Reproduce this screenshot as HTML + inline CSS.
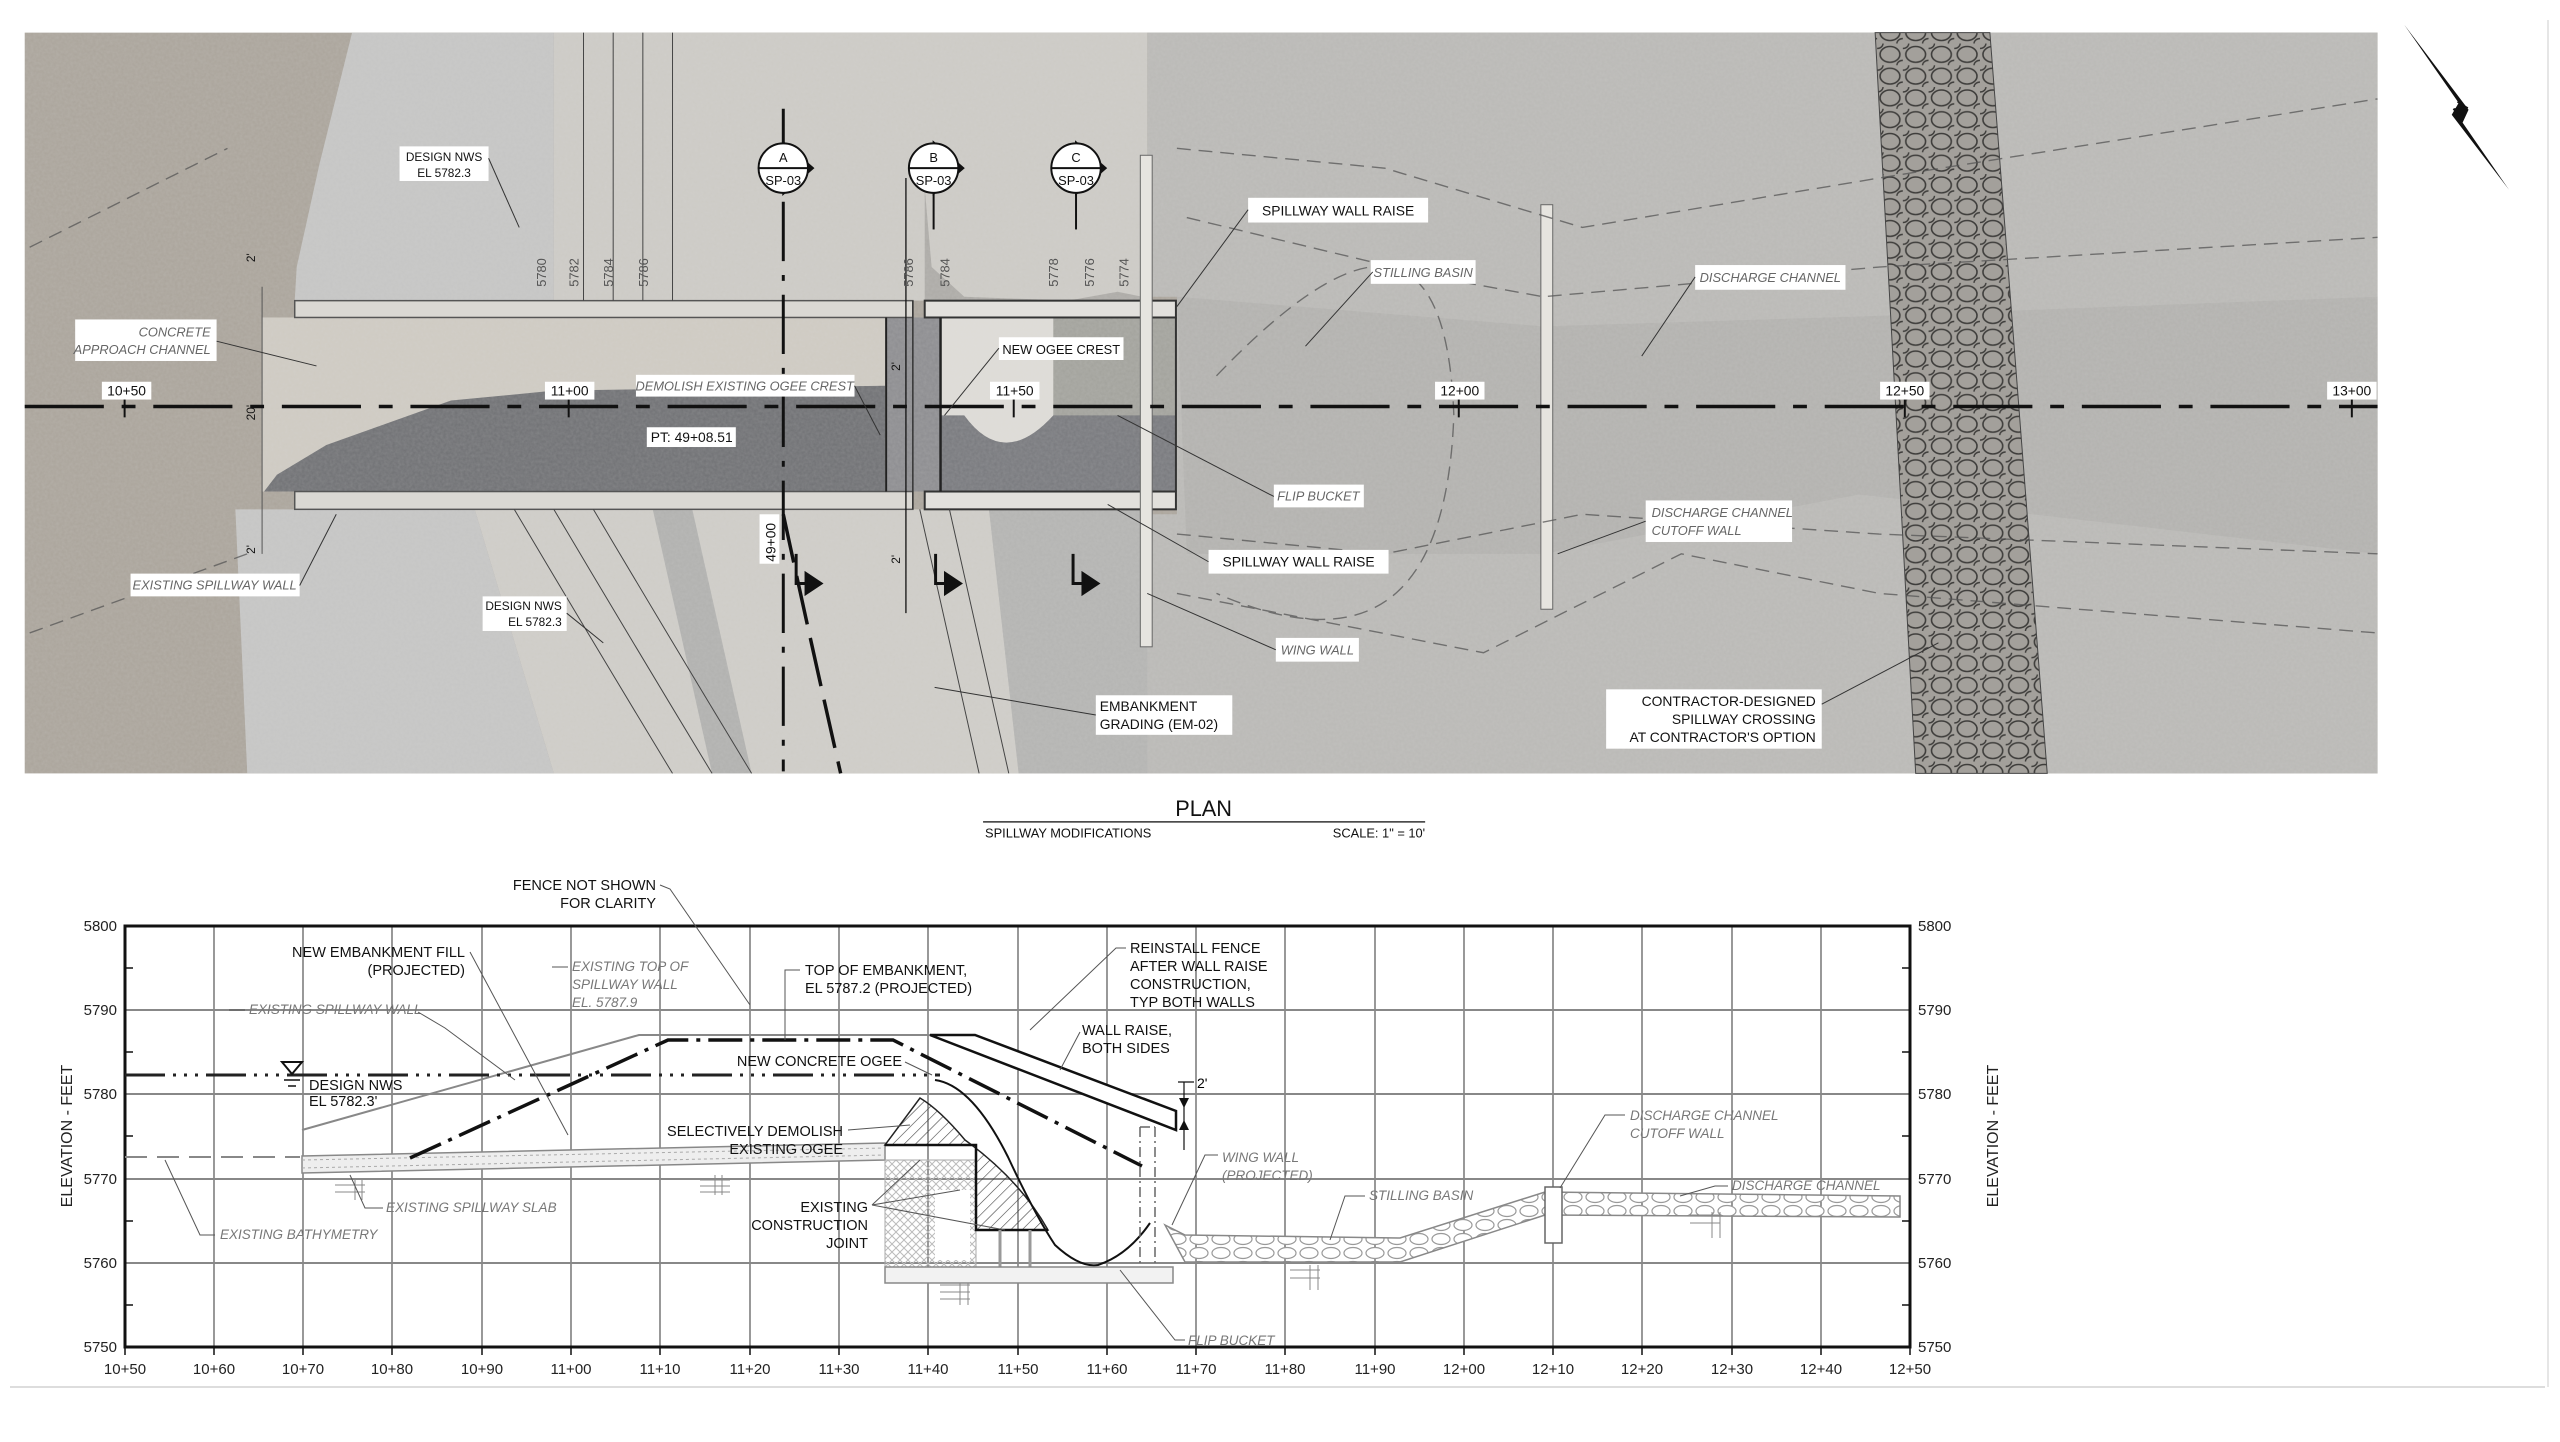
<!DOCTYPE html>
<html><head><meta charset="utf-8"><style>
html,body{margin:0;padding:0;background:#fff;}
svg{display:block;}
text{font-family:"Liberation Sans",sans-serif;}
</style></head><body>
<svg width="2560" height="1442" viewBox="0 0 2560 1442" xmlns="http://www.w3.org/2000/svg">
<defs>
<filter id="grain" x="0" y="0" width="100%" height="100%">
<feTurbulence type="fractalNoise" baseFrequency="0.35" numOctaves="2" seed="3" result="n"/>
<feColorMatrix type="matrix" values="0 0 0 0 0.75  0 0 0 0 0.75  0 0 0 0 0.75  0 0 0 0.6 -0.1"/>
<feComposite in2="SourceGraphic" operator="in"/>
</filter>
<pattern id="rip" width="26" height="22" patternUnits="userSpaceOnUse">
<rect width="26" height="22" fill="#a3a09b"/>
<ellipse cx="13" cy="11" rx="10" ry="8" fill="none" stroke="#3e3d3b" stroke-width="1.6"/>
<ellipse cx="0" cy="0" rx="6" ry="5" fill="none" stroke="#3e3d3b" stroke-width="1.4"/>
<ellipse cx="26" cy="22" rx="6" ry="5" fill="none" stroke="#3e3d3b" stroke-width="1.4"/>
</pattern>
<pattern id="rip2" width="22" height="14" patternUnits="userSpaceOnUse">
<ellipse cx="11" cy="7" rx="9" ry="5.5" fill="#fff" stroke="#999" stroke-width="1.2"/>
</pattern>
<pattern id="hatch" width="8" height="8" patternUnits="userSpaceOnUse" patternTransform="rotate(45)">
<line x1="0" y1="0" x2="0" y2="8" stroke="#444" stroke-width="1.2"/>
</pattern>
<pattern id="xh" width="8" height="8" patternUnits="userSpaceOnUse">
<path d="M0 8L8 0M0 0L8 8" stroke="#bbb" stroke-width="1"/>
</pattern>
</defs>

<g transform="scale(0.989)">
<!-- ============ PLAN AERIAL ============ -->
<rect x="25" y="33" width="2379" height="749" fill="#aca69d"/>
<path d="M1160 33H2404V782H1030L1000 600L1000 520L1190 520L1190 300L1160 300Z" fill="#bbbab7"/>
<path d="M1190 300L1560 330L1880 320L2404 300V560L1880 500L1560 560L1200 560Z" fill="#b4b3b0"/>
<path d="M560 33H1160V304H560Z" fill="#cdcbc6"/>
<path d="M935 190L942 270L975 300L1080 304L1130 295L1155 300L1155 304L935 304Z" fill="#aeaca8"/>
<path d="M356 33H560V304H298L300 270L323 166Z" fill="#c6c6c5"/>
<path d="M480 515H1000L1030 782H560Z" fill="#cfcdc8"/>
<path d="M238 515H480L560 782H250Z" fill="#c6c6c5"/>
<path d="M660 515L700 515L760 782L720 782Z" fill="#b2b2b0"/>
<path d="M1000 515H1160L1160 782H1030Z" fill="#b5b5b3"/>
<rect x="265" y="321" width="630" height="176" fill="#cfcbc3"/>
<path d="M267 497L280 480L330 450L456 405L560 395L895 390L895 497Z" fill="#737477"/>
<rect x="896" y="321" width="55" height="176" fill="#8f8f92"/>
<rect x="951" y="321" width="238" height="176" fill="#dedcd7"/>
<rect x="1065" y="321" width="124" height="176" fill="#a4a49e"/>
<path d="M951 420L975 420Q1015 475 1065 420L1189 420L1189 497L951 497Z" fill="#7b7c80"/>
<rect x="25" y="33" width="2379" height="749" fill="#888" filter="url(#grain)" opacity="0.3"/>
<!-- walls -->
<rect x="298" y="304" width="625" height="17" fill="#dad8d3" stroke="#555" stroke-width="1.5"/>
<rect x="298" y="497" width="625" height="18" fill="#dad8d3" stroke="#555" stroke-width="1.5"/>
<rect x="935" y="304" width="254" height="17" fill="#e2e0dc" stroke="#333" stroke-width="2"/>
<rect x="935" y="497" width="254" height="18" fill="#e2e0dc" stroke="#333" stroke-width="2"/>
<line x1="1189" y1="321" x2="1189" y2="497" stroke="#333" stroke-width="2"/>
<line x1="896" y1="321" x2="896" y2="497" stroke="#222" stroke-width="2"/>
<line x1="951" y1="321" x2="951" y2="497" stroke="#222" stroke-width="2.5"/>
<line x1="923" y1="304" x2="923" y2="515" stroke="#333" stroke-width="1.5"/>
<line x1="265" y1="290" x2="265" y2="560" stroke="#555" stroke-width="1"/>
<rect x="1153" y="157" width="12" height="497" fill="#e6e4df" stroke="#666"/>
<rect x="1558" y="207" width="12" height="409" fill="#e6e4df" stroke="#666"/>
<path d="M1896 33L2012 33L2070 782L1937 782Z" fill="url(#rip)" stroke="#444"/>
<g fill="none" stroke="#555" stroke-width="1.4" stroke-dasharray="14 8" opacity="0.75">
<path d="M1190 150L1400 170L1600 230L1900 180L2404 100"/>
<path d="M1200 220L1450 280L1560 300L1900 270L2404 240"/>
<path d="M1190 540L1400 560L1600 520L1900 540L2404 560"/>
<path d="M1190 600L1500 660L1700 560L1900 600L2404 640"/>
<path d="M30 250L230 150"/><path d="M30 640L250 560"/>
<path d="M1230 380Q1460 140 1470 420Q1460 700 1230 600"/>
</g>
<g fill="none" stroke="#444" stroke-width="1">
<path d="M590 33V304M620 33V304M650 33V304M680 33V304"/>
<path d="M520 515Q600 650 680 782M560 515Q640 650 720 782M600 515Q680 650 760 782M930 515Q960 650 990 782M960 515Q990 650 1020 782"/>
</g>
<path d="M792 110V780" stroke="#111" stroke-width="3" stroke-dasharray="60 14 6 14"/>
<path d="M792 520Q820 650 850 782" stroke="#111" stroke-width="3.5" fill="none" stroke-dasharray="50 14"/>
<line x1="916" y1="180" x2="916" y2="620" stroke="#111" stroke-width="1.3"/>
<line x1="25" y1="411" x2="2404" y2="411" stroke="#111" stroke-width="3.5" stroke-dasharray="80 18 14 18"/>
<g stroke="#111" stroke-width="2">
<line x1="126" y1="400" x2="126" y2="422"/><line x1="575" y1="400" x2="575" y2="422"/><line x1="1025" y1="400" x2="1025" y2="422"/><line x1="1475" y1="400" x2="1475" y2="422"/><line x1="1926" y1="400" x2="1926" y2="422"/><line x1="2378" y1="400" x2="2378" y2="422"/>
</g>
<g stroke="#111" stroke-width="2">
<g transform="translate(792,170)"><path d="M0 -26L30 0L0 26Z" fill="#111"/><circle r="25" fill="#fff"/><line x1="-25" y1="0" x2="25" y2="0"/></g>
<g transform="translate(944,170)"><path d="M0 -26L30 0L0 26Z" fill="#111"/><circle r="25" fill="#fff"/><line x1="-25" y1="0" x2="25" y2="0"/></g>
<g transform="translate(1088,170)"><path d="M0 -26L30 0L0 26Z" fill="#111"/><circle r="25" fill="#fff"/><line x1="-25" y1="0" x2="25" y2="0"/></g>
<line x1="944" y1="195" x2="944" y2="232"/><line x1="1088" y1="195" x2="1088" y2="232"/>
</g>
<g font-size="13" text-anchor="middle" fill="#111">
<text x="792" y="164">A</text><text x="792" y="187">SP-03</text>
<text x="944" y="164">B</text><text x="944" y="187">SP-03</text>
<text x="1088" y="164">C</text><text x="1088" y="187">SP-03</text>
</g>
<g stroke="#111" stroke-width="3" fill="#111">
<path d="M805 560V590H815" fill="none"/><path d="M815 580L830 590L815 600Z"/>
<path d="M946 560V590H956" fill="none"/><path d="M956 580L971 590L956 600Z"/>
<path d="M1085 560V590H1095" fill="none"/><path d="M1095 580L1110 590L1095 600Z"/>
</g>
<g font-size="13" fill="#555">
<text transform="translate(552,290) rotate(-90)">5780</text>
<text transform="translate(585,290) rotate(-90)">5782</text>
<text transform="translate(620,290) rotate(-90)">5784</text>
<text transform="translate(655,290) rotate(-90)">5786</text>
<text transform="translate(923,290) rotate(-90)">5786</text>
<text transform="translate(960,290) rotate(-90)">5784</text>
<text transform="translate(1070,290) rotate(-90)">5778</text>
<text transform="translate(1106,290) rotate(-90)">5776</text>
<text transform="translate(1141,290) rotate(-90)">5774</text>
</g>
<g font-size="14" fill="#111">
<rect x="404" y="148" width="90" height="35" fill="#fff"/>
<text x="449" y="163" text-anchor="middle" font-size="12">DESIGN NWS</text><text x="449" y="179" text-anchor="middle" font-size="12">EL 5782.3</text>
<rect x="1262" y="200" width="182" height="25" fill="#fff"/><text x="1353" y="218" text-anchor="middle">SPILLWAY WALL RAISE</text>
<rect x="1386" y="263" width="106" height="24" fill="#fff"/><text x="1439" y="280" text-anchor="middle" font-style="italic" fill="#666" font-size="13">STILLING BASIN</text>
<rect x="1714" y="268" width="152" height="25" fill="#fff"/><text x="1790" y="285" text-anchor="middle" font-style="italic" fill="#666" font-size="13">DISCHARGE CHANNEL</text>
<rect x="76" y="323" width="143" height="42" fill="#fff"/><text x="213" y="340" text-anchor="end" font-style="italic" fill="#666" font-size="13">CONCRETE</text><text x="213" y="358" text-anchor="end" font-style="italic" fill="#666" font-size="13">APPROACH CHANNEL</text>
<rect x="1010" y="341" width="126" height="23" fill="#fff"/><text x="1073" y="358" text-anchor="middle" font-size="13">NEW OGEE CREST</text>
<rect x="643" y="379" width="221" height="22" fill="#fff"/><text x="753" y="395" text-anchor="middle" font-style="italic" fill="#666" font-size="13">DEMOLISH EXISTING OGEE CREST</text>
<rect x="103" y="386" width="50" height="18" fill="#fff"/><text x="128" y="400" text-anchor="middle">10+50</text>
<rect x="551" y="386" width="50" height="18" fill="#fff"/><text x="576" y="400" text-anchor="middle">11+00</text>
<rect x="1001" y="386" width="50" height="18" fill="#fff"/><text x="1026" y="400" text-anchor="middle">11+50</text>
<rect x="1451" y="386" width="50" height="18" fill="#fff"/><text x="1476" y="400" text-anchor="middle">12+00</text>
<rect x="1901" y="386" width="50" height="18" fill="#fff"/><text x="1926" y="400" text-anchor="middle">12+50</text>
<rect x="2353" y="386" width="50" height="18" fill="#fff"/><text x="2378" y="400" text-anchor="middle">13+00</text>
<rect x="654" y="432" width="90" height="20" fill="#fff"/><text x="658" y="447">PT: 49+08.51</text>
<rect x="1288" y="490" width="91" height="23" fill="#fff"/><text x="1333" y="506" text-anchor="middle" font-style="italic" fill="#666" font-size="13">FLIP BUCKET</text>
<rect x="1664" y="506" width="148" height="42" fill="#fff"/><text x="1670" y="523" font-style="italic" fill="#666" font-size="13">DISCHARGE CHANNEL</text><text x="1670" y="541" font-style="italic" fill="#666" font-size="13">CUTOFF WALL</text>
<rect x="1222" y="556" width="182" height="24" fill="#fff"/><text x="1313" y="573" text-anchor="middle">SPILLWAY WALL RAISE</text>
<rect x="132" y="580" width="171" height="23" fill="#fff"/><text x="217" y="596" text-anchor="middle" font-style="italic" fill="#666" font-size="13">EXISTING SPILLWAY WALL</text>
<rect x="488" y="603" width="85" height="35" fill="#fff"/><text x="568" y="617" text-anchor="end" font-size="12">DESIGN NWS</text><text x="568" y="633" text-anchor="end" font-size="12">EL 5782.3</text>
<rect x="1290" y="645" width="84" height="24" fill="#fff"/><text x="1332" y="662" text-anchor="middle" font-style="italic" fill="#666" font-size="13">WING WALL</text>
<rect x="1108" y="703" width="138" height="40" fill="#fff"/><text x="1112" y="719">EMBANKMENT</text><text x="1112" y="737">GRADING (EM-02)</text>
<rect x="1624" y="697" width="218" height="60" fill="#fff"/><text x="1836" y="714" text-anchor="end">CONTRACTOR-DESIGNED</text><text x="1836" y="732" text-anchor="end">SPILLWAY CROSSING</text><text x="1836" y="750" text-anchor="end">AT CONTRACTOR'S OPTION</text>
<rect x="768" y="520" width="20" height="50" fill="#fff"/><text transform="translate(784,568) rotate(-90)">49+00</text>
<text transform="translate(258,265) rotate(-90)" font-size="12">2'</text>
<text transform="translate(258,425) rotate(-90)" font-size="12">20'</text>
<text transform="translate(258,560) rotate(-90)" font-size="12">2'</text>
<text transform="translate(910,375) rotate(-90)" font-size="12">2'</text>
<text transform="translate(910,570) rotate(-90)" font-size="12">2'</text>
</g>
<g stroke="#333" stroke-width="1" fill="none">
<path d="M494 160L525 230"/><path d="M1262 212L1190 310"/><path d="M1388 275L1320 350"/><path d="M1714 280L1660 360"/>
<path d="M219 345L320 370"/><path d="M1010 352L955 420"/><path d="M864 390L890 440"/><path d="M1288 502L1130 420"/>
<path d="M1664 527L1575 560"/><path d="M1222 568L1120 510"/><path d="M303 592L340 520"/><path d="M573 620L610 650"/>
<path d="M1290 657L1160 600"/><path d="M1108 723L945 695"/><path d="M1842 712L1960 650"/>
</g>
<path d="M2431 25L2486 104L2479 116L2537 192L2490 124L2496 111Z" fill="#111"/>
<text x="2484" y="122" font-size="18" fill="#111" transform="rotate(-60 2484 115)">N</text>

<text x="1217" y="825" font-size="22" text-anchor="middle" fill="#111">PLAN</text>
<line x1="994" y1="831" x2="1441" y2="831" stroke="#333" stroke-width="1.5"/>
<text x="996" y="847" font-size="13" fill="#111">SPILLWAY MODIFICATIONS</text>
<text x="1441" y="847" font-size="13" fill="#111" text-anchor="end">SCALE: 1" = 10'</text>
</g>

<!-- ============ SECTION ============ -->
<g stroke="#555" stroke-width="1.2">
<line x1="214" y1="926" x2="214" y2="1347"/><line x1="303" y1="926" x2="303" y2="1347"/><line x1="392" y1="926" x2="392" y2="1347"/><line x1="482" y1="926" x2="482" y2="1347"/><line x1="571" y1="926" x2="571" y2="1347"/><line x1="660" y1="926" x2="660" y2="1347"/><line x1="750" y1="926" x2="750" y2="1347"/><line x1="839" y1="926" x2="839" y2="1347"/><line x1="928" y1="926" x2="928" y2="1347"/><line x1="1018" y1="926" x2="1018" y2="1347"/><line x1="1107" y1="926" x2="1107" y2="1347"/><line x1="1196" y1="926" x2="1196" y2="1347"/><line x1="1285" y1="926" x2="1285" y2="1347"/><line x1="1375" y1="926" x2="1375" y2="1347"/><line x1="1464" y1="926" x2="1464" y2="1347"/><line x1="1553" y1="926" x2="1553" y2="1347"/><line x1="1642" y1="926" x2="1642" y2="1347"/><line x1="1732" y1="926" x2="1732" y2="1347"/><line x1="1821" y1="926" x2="1821" y2="1347"/>
</g>
<g stroke="#888" stroke-width="2">
<line x1="125" y1="1010" x2="1910" y2="1010"/><line x1="125" y1="1094" x2="1910" y2="1094"/><line x1="125" y1="1179" x2="1910" y2="1179"/><line x1="125" y1="1263" x2="1910" y2="1263"/>
</g>
<rect x="125" y="926" width="1785" height="421" fill="none" stroke="#111" stroke-width="3"/>
<g stroke="#111" stroke-width="1.5">
<path d="M125 968h8M125 1052h8M125 1136h8M125 1221h8M125 1305h8M1910 968h-8M1910 1052h-8M1910 1136h-8M1910 1221h-8M1910 1305h-8"/>
<path d="M125 1347v8M214 1347v8M303 1347v8M392 1347v8M482 1347v8M571 1347v8M660 1347v8M750 1347v8M839 1347v8M928 1347v8M1018 1347v8M1107 1347v8M1196 1347v8M1285 1347v8M1375 1347v8M1464 1347v8M1553 1347v8M1642 1347v8M1732 1347v8M1821 1347v8M1910 1347v8"/>
</g>
<g font-size="15" fill="#222">
<g text-anchor="end"><text x="117" y="931">5800</text><text x="117" y="1015">5790</text><text x="117" y="1099">5780</text><text x="117" y="1184">5770</text><text x="117" y="1268">5760</text><text x="117" y="1352">5750</text></g>
<g><text x="1918" y="931">5800</text><text x="1918" y="1015">5790</text><text x="1918" y="1099">5780</text><text x="1918" y="1184">5770</text><text x="1918" y="1268">5760</text><text x="1918" y="1352">5750</text></g>
<g text-anchor="middle">
<text x="125" y="1374">10+50</text><text x="214" y="1374">10+60</text><text x="303" y="1374">10+70</text><text x="392" y="1374">10+80</text><text x="482" y="1374">10+90</text><text x="571" y="1374">11+00</text><text x="660" y="1374">11+10</text><text x="750" y="1374">11+20</text><text x="839" y="1374">11+30</text><text x="928" y="1374">11+40</text><text x="1018" y="1374">11+50</text><text x="1107" y="1374">11+60</text><text x="1196" y="1374">11+70</text><text x="1285" y="1374">11+80</text><text x="1375" y="1374">11+90</text><text x="1464" y="1374">12+00</text><text x="1553" y="1374">12+10</text><text x="1642" y="1374">12+20</text><text x="1732" y="1374">12+30</text><text x="1821" y="1374">12+40</text><text x="1910" y="1374">12+50</text>
</g>
<text transform="translate(72,1136) rotate(-90)" text-anchor="middle" font-size="16">ELEVATION - FEET</text>
<text transform="translate(1998,1136) rotate(-90)" text-anchor="middle" font-size="16">ELEVATION - FEET</text>
</g>
<line x1="10" y1="1387" x2="2545" y2="1387" stroke="#ddd" stroke-width="2"/>
<line x1="2548" y1="20" x2="2548" y2="1387" stroke="#e6e6e6" stroke-width="2"/>

<path d="M125 1157H300" stroke="#888" stroke-width="2" stroke-dasharray="22 10" fill="none"/>
<path d="M302 1156L885 1143L885 1160L302 1173Z" fill="#eee" stroke="#888" stroke-width="1.5"/>
<path d="M302 1160L885 1148M302 1168L885 1155" stroke="#aaa" stroke-width="1" stroke-dasharray="3 3"/>
<path d="M700 1180h30M700 1186h30M700 1192h30M715 1175v20M722 1175v20" stroke="#888"/>
<path d="M335 1185h30M335 1192h30M355 1180v20M362 1180v20" stroke="#888"/>
<path d="M302 1130L639 1035H930" stroke="#888" stroke-width="2" fill="none"/>
<path d="M125 1075H940" stroke="#222" stroke-width="3" stroke-dasharray="40 8 3 8 3 8 3 8"/>
<path d="M885 1160L976 1160L976 1267L885 1267Z" fill="url(#xh)" stroke="#aaa"/>
<rect x="935" y="1190" width="35" height="70" fill="#fff"/>
<path d="M885 1145L920 1098Q940 1110 965 1140Q1020 1180 1048 1230L976 1230L976 1145Z" fill="url(#hatch)" stroke="#222" stroke-width="1.5"/>
<path d="M885 1145H976V1230H1048" fill="none" stroke="#111" stroke-width="2.5"/>
<path d="M935 1080Q972 1085 1008 1157Q1035 1215 1055 1245Q1080 1268 1098 1265Q1128 1255 1150 1223" fill="none" stroke="#111" stroke-width="2"/>
<path d="M1000 1230V1267M1030 1230V1267" stroke="#999" stroke-width="3"/>
<rect x="885" y="1267" width="288" height="16" fill="#f2f2f2" stroke="#888" stroke-width="1.5"/>
<path d="M940 1285h30M940 1292h30M940 1299h30M960 1283v22M968 1283v22" stroke="#888"/>
<path d="M1140 1127V1263M1155 1127V1263M1140 1127H1155" stroke="#666" stroke-width="1.5" stroke-dasharray="10 4 2 4" fill="none"/>
<path d="M930 1035H975L1176 1111V1130L930 1035" fill="#fff" stroke="#111" stroke-width="2.5"/>
<path d="M410 1158L668 1040H893L1142 1166" fill="none" stroke="#111" stroke-width="3.5" stroke-dasharray="34 8 4 8"/>
<path d="M1165 1225L1185 1235L1400 1238L1545 1192L1900 1196L1900 1217L1545 1215L1400 1262L1185 1262Z" fill="url(#rip2)" stroke="#888" stroke-width="1.5"/>
<rect x="1545" y="1187" width="17" height="56" fill="#fff" stroke="#666" stroke-width="1.5"/>
<path d="M1290 1270h30M1290 1278h30M1310 1265v25M1318 1265v25" stroke="#888"/>
<path d="M1690 1215h30M1690 1223h30M1712 1212v26M1720 1212v26" stroke="#888"/>
<path d="M1184 1082V1150M1178 1082H1194" stroke="#111" stroke-width="1.2"/>
<path d="M1179 1098L1184 1108L1189 1098ZM1179 1130L1184 1120L1189 1130Z" fill="#111"/>
<text x="1197" y="1088" font-size="14">2'</text>
<path d="M282 1062H302L292 1074Z" fill="none" stroke="#111" stroke-width="2"/>
<path d="M284 1080h16M288 1086h8" stroke="#111" stroke-width="1.5"/>

<g font-size="14.5" fill="#111">
<text x="656" y="890" text-anchor="end">FENCE NOT SHOWN</text><text x="656" y="908" text-anchor="end">FOR CLARITY</text>
<text x="465" y="957" text-anchor="end">NEW EMBANKMENT FILL</text><text x="465" y="975" text-anchor="end">(PROJECTED)</text>
<text x="805" y="975">TOP OF EMBANKMENT,</text><text x="805" y="993">EL 5787.2 (PROJECTED)</text>
<text x="1130" y="953">REINSTALL FENCE</text><text x="1130" y="971">AFTER WALL RAISE</text><text x="1130" y="989">CONSTRUCTION,</text><text x="1130" y="1007">TYP BOTH WALLS</text>
<text x="1082" y="1035">WALL RAISE,</text><text x="1082" y="1053">BOTH SIDES</text>
<text x="902" y="1066" text-anchor="end">NEW CONCRETE OGEE</text>
<text x="309" y="1090">DESIGN NWS</text><text x="309" y="1106">EL 5782.3'</text>
<text x="843" y="1136" text-anchor="end">SELECTIVELY DEMOLISH</text><text x="843" y="1154" text-anchor="end">EXISTING OGEE</text>
<text x="868" y="1212" text-anchor="end">EXISTING</text><text x="868" y="1230" text-anchor="end">CONSTRUCTION</text><text x="868" y="1248" text-anchor="end">JOINT</text>
</g>
<g font-size="13.5" fill="#777" font-style="italic">
<text x="572" y="971">EXISTING TOP OF</text><text x="572" y="989">SPILLWAY WALL</text><text x="572" y="1007">EL. 5787.9</text>
<text x="249" y="1014">EXISTING SPILLWAY WALL</text>
<text x="1222" y="1162">WING WALL</text><text x="1222" y="1180">(PROJECTED)</text>
<text x="1369" y="1200">STILLING BASIN</text>
<text x="1630" y="1120">DISCHARGE CHANNEL</text><text x="1630" y="1138">CUTOFF WALL</text>
<text x="1732" y="1190">DISCHARGE CHANNEL</text>
<text x="220" y="1239">EXISTING BATHYMETRY</text>
<text x="386" y="1212">EXISTING SPILLWAY SLAB</text>
<text x="1188" y="1345">FLIP BUCKET</text>
</g>
<g stroke="#555" stroke-width="1" fill="none">
<path d="M660 885L670 889L750 1005"/><path d="M470 952L568 1135"/><path d="M800 970L785 970L785 1040"/>
<path d="M1126 948L1116 948L1030 1030"/><path d="M1080 1032L1060 1070"/><path d="M905 1062L932 1075"/>
<path d="M848 1130L910 1125"/><path d="M872 1205L960 1190M872 1205L1005 1230M872 1205L920 1160"/>
<path d="M1218 1155L1205 1155L1172 1225"/><path d="M1365 1196L1345 1196L1330 1240"/><path d="M1625 1115L1605 1115L1560 1188"/>
<path d="M1728 1186L1715 1186L1680 1196"/><path d="M215 1235L200 1235L165 1160"/><path d="M383 1208L365 1208L350 1175"/>
<path d="M1185 1340L1175 1340L1120 1270"/><path d="M568 967L552 967"/><path d="M245 1010L229 1010"/><path d="M418 1012L445 1028L515 1080"/>
</g>
</svg>
</body></html>
